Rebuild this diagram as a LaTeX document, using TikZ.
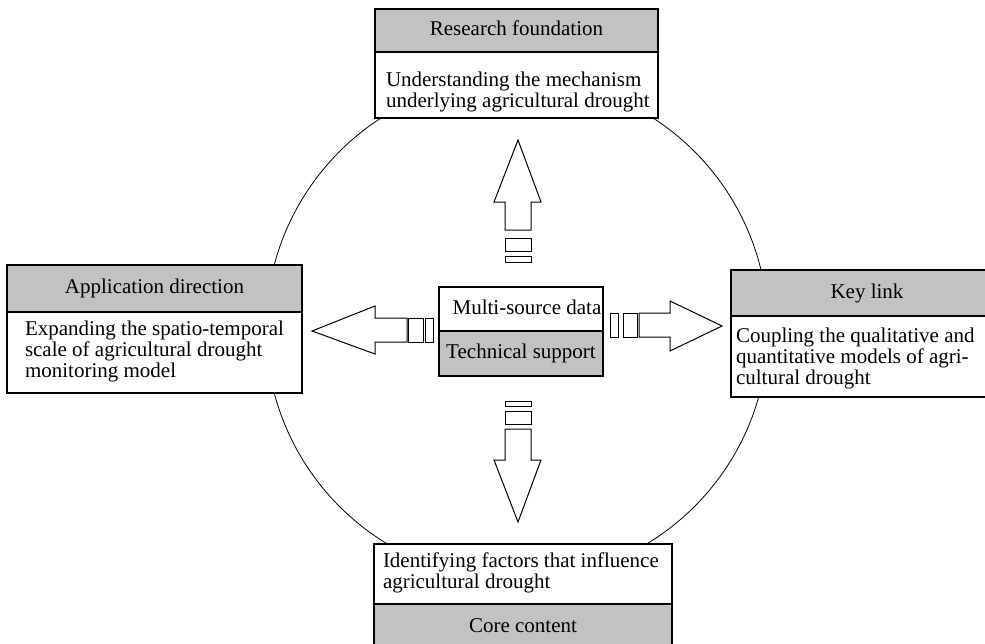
\documentclass[tikz,border=0pt]{standalone}
\usepackage{fontspec}
\setmainfont{Liberation Serif}
\usetikzlibrary{positioning}

\begin{document}
\begin{tikzpicture}[x=1pt,y=-1pt,
    every node/.style={font=\fontsize{21}{21.3}\selectfont, outer sep=0pt},
    head/.style={draw, line width=1.2pt, fill=black!24, inner sep=0pt,
      text height=14.5pt, text depth=4.5pt},
    body/.style={draw, line width=1.2pt, fill=white, inner sep=0pt},
    words/.style={align=left, inner sep=0pt, anchor=north west},
    blk/.style={draw, line width=1pt, fill=white}]
      \clip (0,0) rectangle (985,643);
      \fill[white] (0,0) rectangle (985,643);
      % the ring
      \node[draw, circle, line width=0.8pt, inner sep=0pt, minimum size=502pt] (ring) at (517,329) {};
      % top box
      \node[head, anchor=north west, minimum width=283pt, minimum height=43pt] (rfH) at (375,9) {Research foundation};
      \node[body, below=0pt of rfH, minimum width=283pt, minimum height=66pt] (rfB) {};
      \node[words] (rfT) at (386,71.7) {Understanding the mechanism\\underlying agricultural drought};
      % left box
      \node[head, anchor=north west, minimum width=295pt, minimum height=47pt] (adH) at (7,265) {Application direction};
      \node[body, below=0pt of adH, minimum width=295pt, minimum height=81pt] (adB) {};
      \node[words] (adT) at (25,320.7) {Expanding the spatio-temporal\\scale of agricultural drought\\monitoring model};
      % right box
      \node[head, anchor=north west, minimum width=272pt, minimum height=46pt] (klH) at (731,270) {Key link};
      \node[body, below=0pt of klH, minimum width=272pt, minimum height=81pt] (klB) {};
      \node[words] (klT) at (736,327.7) {Coupling the qualitative and\\quantitative models of agri-\\cultural drought};
      % bottom box
      \node[body, anchor=north west, minimum width=298pt, minimum height=60pt] (ccB) at (374,544) {};
      \node[head, below=0pt of ccB, minimum width=298pt, minimum height=46pt] (ccH) {Core content};
      \node[words] (ccT) at (383,552.7) {Identifying factors that influence\\agricultural drought};
      % centre box
      \node[body, anchor=north west, minimum width=164pt, minimum height=44pt, text height=14.5pt, text depth=4.5pt, xshift=0pt] (msd) at (439,287) {\hspace{12pt}Multi-source data};
      \node[head, below=0pt of msd, minimum width=164pt, minimum height=45pt] (tsp) {Technical support};
      % up arrow
      \draw[blk] (518,140) -- (541,202) -- (531,202) -- (531,230) -- (505,230) -- (505,202) -- (494,202) -- cycle;
      \draw[blk] (505,238) rectangle (531,251);
      \draw[blk] (505,256) rectangle (531,262);
      % down arrow
      \draw[blk] (505,401) rectangle (531,406);
      \draw[blk] (505,411) rectangle (531,424);
      \draw[blk] (505,429) -- (531,429) -- (531,460) -- (541,460) -- (518,522) -- (494,460) -- (505,460) -- cycle;
      % left arrow
      \draw[blk] (312,331) -- (375,306) -- (375,318) -- (407,318) -- (407,342) -- (375,342) -- (375,354) -- cycle;
      \draw[blk] (408,318) rectangle (423,342);
      \draw[blk] (425,318) rectangle (433,342);
      % right arrow
      \draw[blk] (610,313) rectangle (618,337);
      \draw[blk] (623,313) rectangle (637,337);
      \draw[blk] (639,313) -- (670,313) -- (670,301) -- (722,326) -- (670,351) -- (670,337) -- (639,337) -- cycle;
\end{tikzpicture}
\end{document}
